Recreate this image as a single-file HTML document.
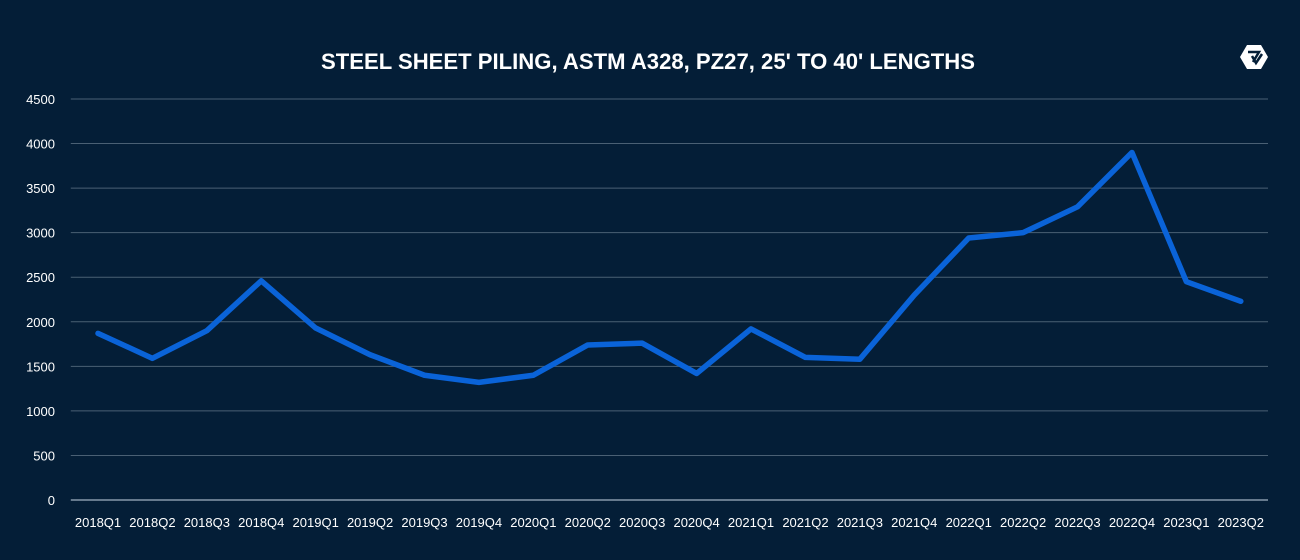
<!DOCTYPE html>
<html><head><meta charset="utf-8"><style>
html,body{margin:0;padding:0;background:#041e37;}
svg{display:block;font-family:"Liberation Sans",sans-serif;}
</style></head><body>
<svg id="chart" width="1300" height="560">
<rect width="1300" height="560" fill="#041e37"/>
<text x="648" y="69" text-anchor="middle" fill="#ffffff" font-size="22" font-weight="bold" textLength="654" lengthAdjust="spacingAndGlyphs">STEEL SHEET PILING, ASTM A328, PZ27, 25' TO 40' LENGTHS</text>
<g transform="translate(1254,57)">
<polygon points="-7,-12 7,-12 14,0 7,12 -7,12 -14,0" fill="#ffffff"/>
<path d="M-6,-5 L5,-5 L-1,5 M-2,-1 L2,6 L8,-3" stroke="#041e37" stroke-width="2.5" fill="none"/>
</g>
<g id="grid"></g><g id="yticks"></g><g id="xticks"></g><g id="series"></g>
</svg>
<script>
const categories=["2018Q1","2018Q2","2018Q3","2018Q4","2019Q1","2019Q2","2019Q3","2019Q4","2020Q1","2020Q2","2020Q3","2020Q4","2021Q1","2021Q2","2021Q3","2021Q4","2022Q1","2022Q2","2022Q3","2022Q4","2023Q1","2023Q2"];
const values=[1870,1590,1900,2460,1930,1630,1400,1320,1400,1740,1760,1420,1920,1600,1580,2300,2940,3000,3290,3900,2450,2230];
const yTicks=[0,500,1000,1500,2000,2500,3000,3500,4000,4500];
const NS="http://www.w3.org/2000/svg";
const x0=70.8,x1=1268,y0=500,y1=99,yMax=4500;
const band=(x1-x0)/categories.length;
const xs=i=>x0+band*(i+0.5);
const ys=v=>y0-(v/yMax)*(y0-y1);
function mk(t,a,p){const e=document.createElementNS(NS,t);for(const k in a)e.setAttribute(k,a[k]);p.appendChild(e);return e;}
const grid=document.getElementById('grid'),yt=document.getElementById('yticks'),xt=document.getElementById('xticks'),se=document.getElementById('series');
yTicks.forEach(v=>{
  const l=mk('line',{x1:x0,x2:x1,y1:ys(v),y2:ys(v),stroke:v===0?'#c8d6e6':'#4a6074','stroke-width':1},grid);
  
  
  const t=mk('text',{x:55,y:ys(v)+5,'text-anchor':'end',fill:'#ffffff','font-size':13},yt);
  t.textContent=v;
  
  
});
categories.forEach((c,i)=>{
  const t=mk('text',{x:xs(i),y:527,'text-anchor':'middle',fill:'#ffffff','font-size':13},xt);
  t.textContent=c;
  
  
});
const pl=mk('polyline',{points:values.map((v,i)=>xs(i)+','+ys(v)).join(' '),fill:'none',stroke:'#0a63d8','stroke-width':5.5,'stroke-linejoin':'round','stroke-linecap':'round'},se);


</script>
</body></html>
